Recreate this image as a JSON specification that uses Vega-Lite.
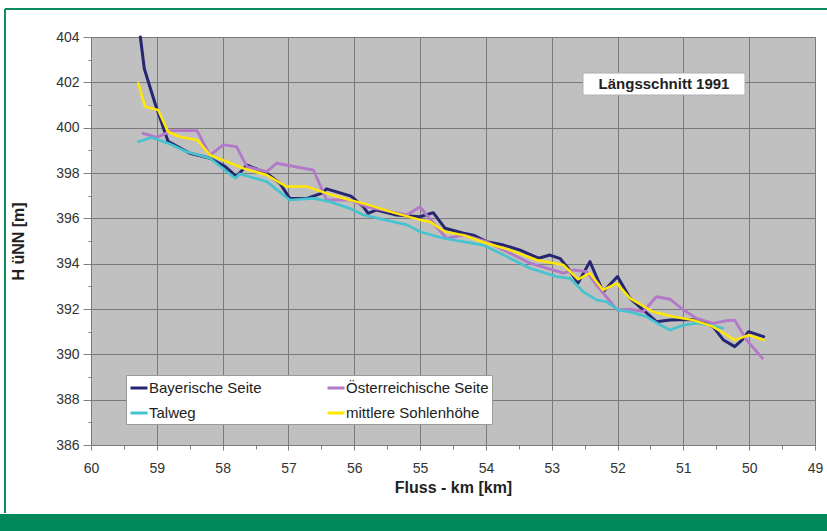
{
  "$schema": "https://vega.github.io/schema/vega-lite/v6.json",
  "width": 724,
  "height": 408,
  "autosize": {"type": "none"},
  "padding": {"left": 91, "top": 37, "right": 12, "bottom": 86},
  "background": "#ffffff",
  "config": {
    "font": "Liberation Sans",
    "view": {"fill": "#c0c0c0", "stroke": "#8a8a8a", "strokeWidth": 1}
  },
  "datasets": {
    "profile": [
      {"s": "Bayerische Seite", "km": 59.25, "h": 404.0},
      {"s": "Bayerische Seite", "km": 59.19, "h": 402.6},
      {"s": "Bayerische Seite", "km": 59.03, "h": 401.1},
      {"s": "Bayerische Seite", "km": 58.83, "h": 399.4},
      {"s": "Bayerische Seite", "km": 58.5, "h": 398.87},
      {"s": "Bayerische Seite", "km": 58.19, "h": 398.65},
      {"s": "Bayerische Seite", "km": 57.96, "h": 398.28},
      {"s": "Bayerische Seite", "km": 57.79, "h": 397.84},
      {"s": "Bayerische Seite", "km": 57.63, "h": 398.35},
      {"s": "Bayerische Seite", "km": 57.33, "h": 397.99},
      {"s": "Bayerische Seite", "km": 57.13, "h": 397.55},
      {"s": "Bayerische Seite", "km": 56.98, "h": 396.88},
      {"s": "Bayerische Seite", "km": 56.72, "h": 396.88},
      {"s": "Bayerische Seite", "km": 56.5, "h": 397.1},
      {"s": "Bayerische Seite", "km": 56.42, "h": 397.3},
      {"s": "Bayerische Seite", "km": 56.05, "h": 396.98},
      {"s": "Bayerische Seite", "km": 55.86, "h": 396.51},
      {"s": "Bayerische Seite", "km": 55.79, "h": 396.22},
      {"s": "Bayerische Seite", "km": 55.66, "h": 396.37},
      {"s": "Bayerische Seite", "km": 55.36, "h": 396.15},
      {"s": "Bayerische Seite", "km": 55.0, "h": 396.07},
      {"s": "Bayerische Seite", "km": 54.8, "h": 396.25},
      {"s": "Bayerische Seite", "km": 54.62, "h": 395.56},
      {"s": "Bayerische Seite", "km": 54.34, "h": 395.34},
      {"s": "Bayerische Seite", "km": 54.19, "h": 395.26},
      {"s": "Bayerische Seite", "km": 53.99, "h": 394.97},
      {"s": "Bayerische Seite", "km": 53.73, "h": 394.82},
      {"s": "Bayerische Seite", "km": 53.48, "h": 394.6},
      {"s": "Bayerische Seite", "km": 53.2, "h": 394.24},
      {"s": "Bayerische Seite", "km": 53.03, "h": 394.38},
      {"s": "Bayerische Seite", "km": 52.87, "h": 394.22},
      {"s": "Bayerische Seite", "km": 52.77, "h": 393.87},
      {"s": "Bayerische Seite", "km": 52.6, "h": 393.15},
      {"s": "Bayerische Seite", "km": 52.42, "h": 394.09},
      {"s": "Bayerische Seite", "km": 52.22, "h": 392.76},
      {"s": "Bayerische Seite", "km": 52.0, "h": 393.43},
      {"s": "Bayerische Seite", "km": 51.81, "h": 392.47},
      {"s": "Bayerische Seite", "km": 51.61, "h": 391.96},
      {"s": "Bayerische Seite", "km": 51.41, "h": 391.44},
      {"s": "Bayerische Seite", "km": 51.2, "h": 391.51},
      {"s": "Bayerische Seite", "km": 50.95, "h": 391.54},
      {"s": "Bayerische Seite", "km": 50.75, "h": 391.51},
      {"s": "Bayerische Seite", "km": 50.55, "h": 391.22},
      {"s": "Bayerische Seite", "km": 50.39, "h": 390.63},
      {"s": "Bayerische Seite", "km": 50.22, "h": 390.34},
      {"s": "Bayerische Seite", "km": 50.11, "h": 390.63},
      {"s": "Bayerische Seite", "km": 50.01, "h": 391.0},
      {"s": "Bayerische Seite", "km": 49.78, "h": 390.78},
      {"s": "Österreichische Seite", "km": 59.21, "h": 399.75},
      {"s": "Österreichische Seite", "km": 59.0, "h": 399.57},
      {"s": "Österreichische Seite", "km": 58.77, "h": 399.87},
      {"s": "Österreichische Seite", "km": 58.39, "h": 399.87},
      {"s": "Österreichische Seite", "km": 58.19, "h": 398.79},
      {"s": "Österreichische Seite", "km": 57.99, "h": 399.24},
      {"s": "Österreichische Seite", "km": 57.79, "h": 399.16},
      {"s": "Österreichische Seite", "km": 57.63, "h": 398.28},
      {"s": "Österreichische Seite", "km": 57.33, "h": 398.06},
      {"s": "Österreichische Seite", "km": 57.18, "h": 398.43},
      {"s": "Österreichische Seite", "km": 56.62, "h": 398.13},
      {"s": "Österreichische Seite", "km": 56.42, "h": 396.81},
      {"s": "Österreichische Seite", "km": 56.07, "h": 396.81},
      {"s": "Österreichische Seite", "km": 55.81, "h": 396.51},
      {"s": "Österreichische Seite", "km": 55.2, "h": 396.15},
      {"s": "Österreichische Seite", "km": 55.0, "h": 396.51},
      {"s": "Österreichische Seite", "km": 54.88, "h": 396.07},
      {"s": "Österreichische Seite", "km": 54.6, "h": 395.12},
      {"s": "Österreichische Seite", "km": 54.34, "h": 395.26},
      {"s": "Österreichische Seite", "km": 53.99, "h": 394.97},
      {"s": "Österreichische Seite", "km": 53.68, "h": 394.53},
      {"s": "Österreichische Seite", "km": 53.33, "h": 394.02},
      {"s": "Österreichische Seite", "km": 52.82, "h": 393.58},
      {"s": "Österreichische Seite", "km": 52.67, "h": 393.72},
      {"s": "Österreichische Seite", "km": 52.47, "h": 393.65},
      {"s": "Österreichische Seite", "km": 52.32, "h": 393.06},
      {"s": "Österreichische Seite", "km": 52.17, "h": 392.54},
      {"s": "Österreichische Seite", "km": 52.01, "h": 391.96},
      {"s": "Österreichische Seite", "km": 51.81, "h": 391.99},
      {"s": "Österreichische Seite", "km": 51.61, "h": 391.88},
      {"s": "Österreichische Seite", "km": 51.41, "h": 392.54},
      {"s": "Österreichische Seite", "km": 51.2, "h": 392.43},
      {"s": "Österreichische Seite", "km": 51.0, "h": 391.96},
      {"s": "Österreichische Seite", "km": 50.8, "h": 391.59},
      {"s": "Österreichische Seite", "km": 50.55, "h": 391.37},
      {"s": "Österreichische Seite", "km": 50.34, "h": 391.49},
      {"s": "Österreichische Seite", "km": 50.22, "h": 391.51},
      {"s": "Österreichische Seite", "km": 50.04, "h": 390.63},
      {"s": "Österreichische Seite", "km": 49.8, "h": 389.83},
      {"s": "Talweg", "km": 59.28, "h": 399.38},
      {"s": "Talweg", "km": 59.08, "h": 399.57},
      {"s": "Talweg", "km": 58.8, "h": 399.28},
      {"s": "Talweg", "km": 58.55, "h": 398.94},
      {"s": "Talweg", "km": 58.19, "h": 398.65},
      {"s": "Talweg", "km": 57.81, "h": 397.77},
      {"s": "Talweg", "km": 57.74, "h": 397.96},
      {"s": "Talweg", "km": 57.33, "h": 397.62},
      {"s": "Talweg", "km": 56.98, "h": 396.81},
      {"s": "Talweg", "km": 56.62, "h": 396.88},
      {"s": "Talweg", "km": 56.37, "h": 396.73},
      {"s": "Talweg", "km": 56.07, "h": 396.44},
      {"s": "Talweg", "km": 55.86, "h": 396.15},
      {"s": "Talweg", "km": 55.2, "h": 395.71},
      {"s": "Talweg", "km": 55.0, "h": 395.41},
      {"s": "Talweg", "km": 54.65, "h": 395.12},
      {"s": "Talweg", "km": 54.04, "h": 394.82},
      {"s": "Talweg", "km": 53.68, "h": 394.31},
      {"s": "Talweg", "km": 53.33, "h": 393.8},
      {"s": "Talweg", "km": 52.93, "h": 393.43},
      {"s": "Talweg", "km": 52.72, "h": 393.35},
      {"s": "Talweg", "km": 52.52, "h": 392.76},
      {"s": "Talweg", "km": 52.32, "h": 392.4},
      {"s": "Talweg", "km": 52.17, "h": 392.32},
      {"s": "Talweg", "km": 51.99, "h": 391.96},
      {"s": "Talweg", "km": 51.76, "h": 391.84},
      {"s": "Talweg", "km": 51.56, "h": 391.66},
      {"s": "Talweg", "km": 51.38, "h": 391.34},
      {"s": "Talweg", "km": 51.2, "h": 391.07},
      {"s": "Talweg", "km": 51.0, "h": 391.29},
      {"s": "Talweg", "km": 50.8, "h": 391.37},
      {"s": "Talweg", "km": 50.6, "h": 391.29},
      {"s": "Talweg", "km": 50.4, "h": 391.15},
      {"s": "mittlere Sohlenhöhe", "km": 59.28, "h": 401.96},
      {"s": "mittlere Sohlenhöhe", "km": 59.18, "h": 400.93},
      {"s": "mittlere Sohlenhöhe", "km": 58.98, "h": 400.78},
      {"s": "mittlere Sohlenhöhe", "km": 58.83, "h": 399.82},
      {"s": "mittlere Sohlenhöhe", "km": 58.65, "h": 399.6},
      {"s": "mittlere Sohlenhöhe", "km": 58.39, "h": 399.46},
      {"s": "mittlere Sohlenhöhe", "km": 58.19, "h": 398.79},
      {"s": "mittlere Sohlenhöhe", "km": 57.99, "h": 398.57},
      {"s": "mittlere Sohlenhöhe", "km": 57.69, "h": 398.21},
      {"s": "mittlere Sohlenhöhe", "km": 57.33, "h": 397.91},
      {"s": "mittlere Sohlenhöhe", "km": 57.03, "h": 397.4},
      {"s": "mittlere Sohlenhöhe", "km": 56.72, "h": 397.4},
      {"s": "mittlere Sohlenhöhe", "km": 56.42, "h": 397.1},
      {"s": "mittlere Sohlenhöhe", "km": 56.07, "h": 396.81},
      {"s": "mittlere Sohlenhöhe", "km": 55.86, "h": 396.66},
      {"s": "mittlere Sohlenhöhe", "km": 55.36, "h": 396.22},
      {"s": "mittlere Sohlenhöhe", "km": 55.0, "h": 395.93},
      {"s": "mittlere Sohlenhöhe", "km": 54.85, "h": 395.85},
      {"s": "mittlere Sohlenhöhe", "km": 54.62, "h": 395.41},
      {"s": "mittlere Sohlenhöhe", "km": 54.34, "h": 395.26},
      {"s": "mittlere Sohlenhöhe", "km": 53.99, "h": 394.9},
      {"s": "mittlere Sohlenhöhe", "km": 53.63, "h": 394.6},
      {"s": "mittlere Sohlenhöhe", "km": 53.23, "h": 394.16},
      {"s": "mittlere Sohlenhöhe", "km": 52.82, "h": 393.94},
      {"s": "mittlere Sohlenhöhe", "km": 52.72, "h": 393.65},
      {"s": "mittlere Sohlenhöhe", "km": 52.6, "h": 393.31},
      {"s": "mittlere Sohlenhöhe", "km": 52.42, "h": 393.58},
      {"s": "mittlere Sohlenhöhe", "km": 52.22, "h": 392.84},
      {"s": "mittlere Sohlenhöhe", "km": 52.01, "h": 393.13},
      {"s": "mittlere Sohlenhöhe", "km": 51.81, "h": 392.47},
      {"s": "mittlere Sohlenhöhe", "km": 51.46, "h": 391.88},
      {"s": "mittlere Sohlenhöhe", "km": 51.15, "h": 391.66},
      {"s": "mittlere Sohlenhöhe", "km": 50.85, "h": 391.51},
      {"s": "mittlere Sohlenhöhe", "km": 50.55, "h": 391.22},
      {"s": "mittlere Sohlenhöhe", "km": 50.22, "h": 390.63},
      {"s": "mittlere Sohlenhöhe", "km": 50.01, "h": 390.85},
      {"s": "mittlere Sohlenhöhe", "km": 49.78, "h": 390.63}
    ]
  },
  "layer": [
    {
      "data": {"values": [{}]},
      "mark": {"type": "rule", "stroke": "#0b8a5c", "strokeWidth": 2, "clip": false},
      "encoding": {
        "x": {"datum": 61.307, "type": "quantitative", "scale": {"domain": [49, 60], "reverse": true, "nice": false, "zero": false}, "axis": null},
        "y": {"datum": 405.24, "type": "quantitative", "scale": {"domain": [386, 404], "nice": false, "zero": false}, "axis": null},
        "y2": {"datum": 383.0}
      }
    },
    {
      "data": {"values": [{}]},
      "mark": {"type": "rule", "stroke": "#0b8a5c", "strokeWidth": 2, "clip": false},
      "encoding": {
        "x": {"datum": 61.307, "type": "quantitative", "scale": {"domain": [49, 60], "reverse": true, "nice": false, "zero": false}, "axis": null},
        "x2": {"datum": 48.4},
        "y": {"datum": 405.24, "type": "quantitative", "scale": {"domain": [386, 404], "nice": false, "zero": false}, "axis": null}
      }
    },
    {
      "data": {"values": [{}]},
      "mark": {"type": "rect", "fill": "#00895a", "clip": false},
      "encoding": {
        "x": {"datum": 61.6, "type": "quantitative", "scale": {"domain": [49, 60], "reverse": true, "nice": false, "zero": false}, "axis": null},
        "x2": {"datum": 48.4},
        "y": {"datum": 382.956, "type": "quantitative", "scale": {"domain": [386, 404], "nice": false, "zero": false}, "axis": null},
        "y2": {"datum": 381.5}
      }
    },
    {
      "data": {"name": "profile"},
      "mark": {"type": "line", "strokeJoin": "round", "strokeCap": "round"},
      "encoding": {
        "x": {
          "field": "km", "type": "quantitative",
          "scale": {"domain": [49, 60], "reverse": true, "nice": false, "zero": false},
          "axis": {
            "values": [60, 59, 58, 57, 56, 55, 54, 53, 52, 51, 50, 49],
            "title": "Fluss - km [km]", "titleFontSize": 16, "titleFontWeight": "bold", "titleColor": "#222222", "titlePadding": 4,
            "labelFontSize": 14, "labelColor": "#333333", "labelPadding": 11, "labelFlush": false,
            "tickSize": 5, "tickColor": "#808080", "domain": false,
            "grid": true, "gridColor": "#7a7a7a", "gridWidth": 1
          }
        },
        "y": {
          "field": "h", "type": "quantitative",
          "scale": {"domain": [386, 404], "nice": false, "zero": false},
          "axis": {
            "values": [386, 388, 390, 392, 394, 396, 398, 400, 402, 404],
            "title": "H üNN [m]", "titleFontSize": 16, "titleFontWeight": "bold", "titleColor": "#222222", "titlePadding": 29,
            "labelFontSize": 14, "labelColor": "#333333", "labelPadding": 4, "labelFlush": false,
            "tickSize": 8, "tickColor": "#808080", "domain": false,
            "grid": true, "gridColor": "#7a7a7a", "gridWidth": 1
          }
        },
        "color": {
          "field": "s", "type": "nominal",
          "scale": {
            "domain": ["Bayerische Seite", "Talweg", "Österreichische Seite", "mittlere Sohlenhöhe"],
            "range": ["#262673", "#45c3cf", "#b378c8", "#ffe800"]
          },
          "legend": {
            "orient": "none", "legendX": 35, "legendY": 338, "columns": 2, "title": null,
            "fillColor": "#ffffff", "strokeColor": "#9a9a9a", "padding": 3,
            "labelFontSize": 15, "labelColor": "#222222", "labelLimit": 300, "labelOffset": 0,
            "symbolType": "stroke", "symbolStrokeWidth": 3, "symbolSize": 289,
            "rowPadding": 7, "columnPadding": 59
          }
        },
        "strokeWidth": {
          "field": "s", "type": "nominal",
          "scale": {
            "domain": ["Bayerische Seite", "Österreichische Seite", "Talweg", "mittlere Sohlenhöhe"],
            "range": [3, 2.5, 2, 3]
          },
          "legend": null
        }
      }
    },
    {
      "data": {"values": [{}]},
      "mark": {"type": "rect", "fill": "#ffffff", "stroke": "#b0b0b0", "strokeWidth": 1},
      "encoding": {
        "x": {
          "datum": 52.525, "type": "quantitative",
          "scale": {"domain": [49, 60], "reverse": true, "nice": false, "zero": false},
          "axis": {
            "orient": "bottom", "values": [59.5, 58.5, 57.5, 56.5, 55.5, 54.5, 53.5, 52.5, 51.5, 50.5, 49.5],
            "labels": false, "title": null, "grid": false, "domain": false, "tickSize": 4, "tickColor": "#808080"
          }
        },
        "x2": {"datum": 50.064},
        "y": {
          "datum": 402.41, "type": "quantitative",
          "scale": {"domain": [386, 404], "nice": false, "zero": false},
          "axis": {
            "orient": "left", "values": [387, 389, 391, 393, 395, 397, 399, 401, 403],
            "labels": false, "title": null, "grid": false, "domain": false, "tickSize": 3, "tickColor": "#808080"
          }
        },
        "y2": {"datum": 401.44}
      }
    },
    {
      "data": {"values": [{}]},
      "mark": {"type": "text", "text": "Längsschnitt 1991", "fontSize": 15, "fontWeight": "bold", "color": "#222222", "align": "center", "baseline": "middle"},
      "encoding": {
        "x": {"datum": 51.294, "type": "quantitative", "scale": {"domain": [49, 60], "reverse": true, "nice": false, "zero": false}, "axis": null},
        "y": {"datum": 401.93, "type": "quantitative", "scale": {"domain": [386, 404], "nice": false, "zero": false}, "axis": null}
      }
    }
  ],
  "resolve": {"axis": {"x": "independent", "y": "independent"}}
}
